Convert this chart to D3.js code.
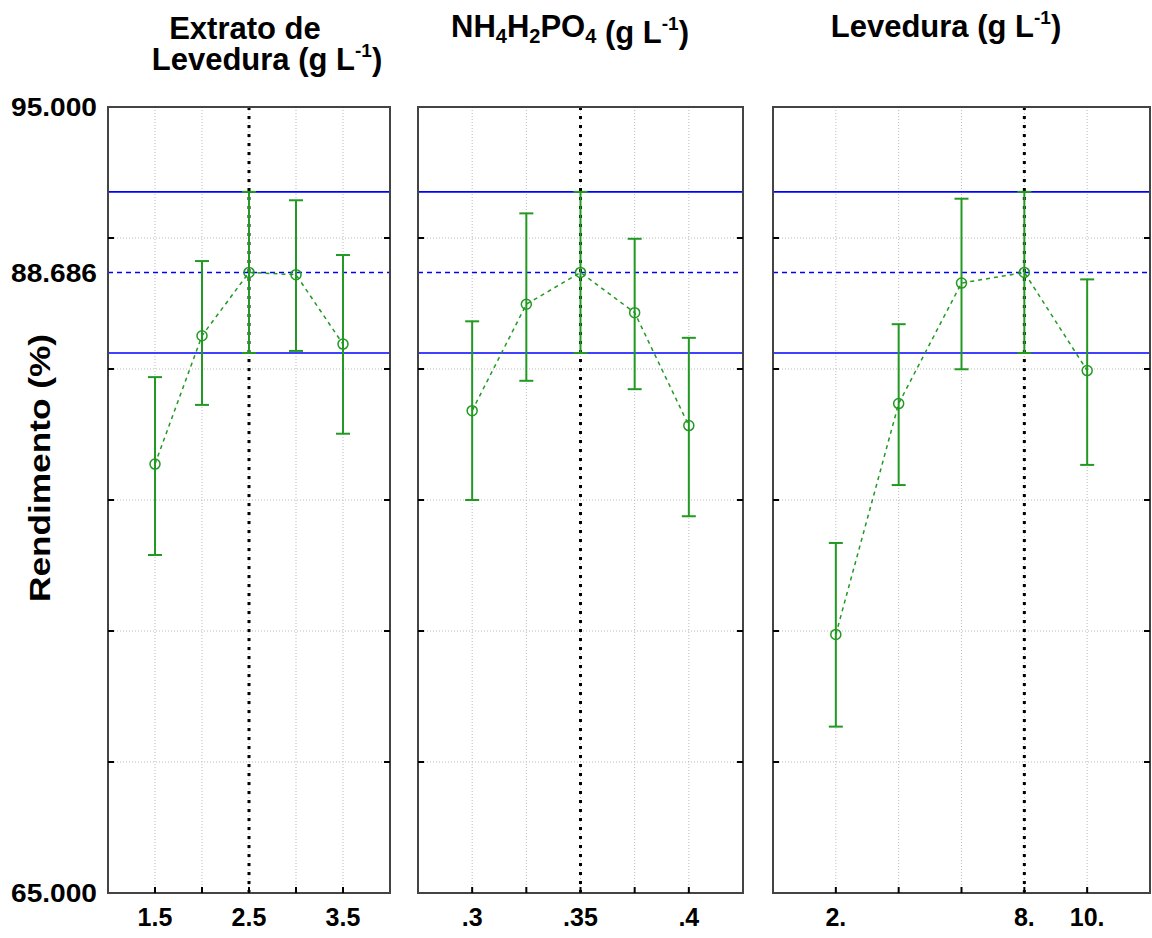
<!DOCTYPE html>
<html>
<head>
<meta charset="utf-8">
<script src="https://cdn.jsdelivr.net/npm/d3@7"></script>
<style>
  body { margin: 0; background: #fff; }
  svg { display: block; font-family: "Liberation Sans", Arial, sans-serif; }
</style>
</head>
<body>
<div id="chart"></div>
<script>
// valores
const extratoX = [1.5, 2, 2.5, 3, 3.5];
const extratoMean = [81.37, 86.27, 88.686, 88.6, 85.95];
const extratoLow = [77.9, 83.63, 85.61, 85.69, 82.53];
const extratoHigh = [84.69, 89.12, 91.76, 91.44, 89.35];

const nh4X = [0.3, 0.325, 0.35, 0.375, 0.4];
const nh4Mean = [83.41, 87.47, 88.686, 87.15, 82.84];
const nh4Low = [80.0, 84.55, 85.61, 84.23, 79.38];
const nh4High = [86.82, 90.94, 91.76, 89.97, 86.19];

const levX = [2, 4, 6, 8, 10];
const levMean = [74.87, 83.68, 88.28, 88.686, 84.94];
const levLow = [71.35, 80.57, 84.99, 85.61, 81.34];
const levHigh = [78.36, 86.71, 91.5, 91.76, 88.42];

// valor ótimo previsto e intervalo
const predicted = 88.686;
const predLow = 85.61;
const predHigh = 91.76;

const yTickLabels = [95, 88.686, 65];
const yGrid = [70, 75, 80, 85, 90];

const width = 1152;
const height = 938;

const svg = d3
  .select("#chart")
  .append("svg")
  .attr("width", width)
  .attr("height", height);

const y = d3.scaleLinear().domain([65, 95]).range([893, 107]);

const panels = [
  {
    x: extratoX, mean: extratoMean, low: extratoLow, high: extratoHigh,
    domain: [1, 4], range: [108, 390], opt: 2.5,
    labels: [1.5, 2.5, 3.5], fmt: (d) => String(d),
  },
  {
    x: nh4X, mean: nh4Mean, low: nh4Low, high: nh4High,
    domain: [0.275, 0.425], range: [418, 743], opt: 0.35,
    labels: [0.3, 0.35, 0.4], fmt: (d) => String(d).replace("0.", "."),
  },
  {
    x: levX, mean: levMean, low: levLow, high: levHigh,
    domain: [0, 12], range: [773, 1150], opt: 8,
    labels: [2, 8, 10], fmt: (d) => d + ".",
  },
];

const green = "#229922";

panels.forEach((p) => drawPanel(p));

function drawPanel(p) {
  const x = d3.scaleLinear().domain(p.domain).range(p.range);
  const [x0, x1] = p.range;
  const g = svg.append("g");

  // grade pontilhada
  g.selectAll(".vgrid")
    .data(p.x)
    .join("line")
    .attr("x1", (d) => x(d))
    .attr("x2", (d) => x(d))
    .attr("y1", y(95))
    .attr("y2", y(65))
    .attr("stroke", "#bbb")
    .attr("stroke-width", 1)
    .attr("stroke-dasharray", "1,2");

  g.selectAll(".hgrid")
    .data(yGrid)
    .join("line")
    .attr("x1", x0)
    .attr("x2", x1)
    .attr("y1", (d) => y(d))
    .attr("y2", (d) => y(d))
    .attr("stroke", "#bbb")
    .attr("stroke-width", 1)
    .attr("stroke-dasharray", "1,2");

  // linhas azuis (intervalo e valor previsto)
  g.selectAll(".blue")
    .data([predLow, predHigh])
    .join("line")
    .attr("x1", x0)
    .attr("x2", x1)
    .attr("y1", (d) => y(d))
    .attr("y2", (d) => y(d))
    .attr("stroke", "#0000ff")
    .attr("stroke-width", 1.6);

  g.append("line")
    .attr("x1", x0)
    .attr("x2", x1)
    .attr("y1", y(predicted))
    .attr("y2", y(predicted))
    .attr("stroke", "#0000ff")
    .attr("stroke-width", 1.6)
    .attr("stroke-dasharray", "5,4");

  // linha vertical do ótimo
  g.append("line")
    .attr("x1", x(p.opt))
    .attr("x2", x(p.opt))
    .attr("y1", y(95))
    .attr("y2", y(65))
    .attr("stroke", "#000")
    .attr("stroke-width", 3)
    .attr("stroke-dasharray", "3,6");

  const pts = p.x.map((d, i) => ({
    x: d, mean: p.mean[i], low: p.low[i], high: p.high[i],
  }));

  // linha tracejada verde ligando as médias
  g.append("path")
    .datum(pts)
    .attr("fill", "none")
    .attr("stroke", green)
    .attr("stroke-width", 1.5)
    .attr("stroke-dasharray", "4,4")
    .attr("d", d3.line().x((d) => x(d.x)).y((d) => y(d.mean)));

  // barras de erro
  const bars = g.selectAll(".bar").data(pts).join("g");
  bars.append("line")
    .attr("x1", (d) => x(d.x))
    .attr("x2", (d) => x(d.x))
    .attr("y1", (d) => y(d.low))
    .attr("y2", (d) => y(d.high))
    .attr("stroke", green)
    .attr("stroke-width", 2);
  ["low", "high"].forEach((k) => {
    bars.append("line")
      .attr("x1", (d) => x(d.x) - 7)
      .attr("x2", (d) => x(d.x) + 7)
      .attr("y1", (d) => y(d[k]))
      .attr("y2", (d) => y(d[k]))
      .attr("stroke", green)
      .attr("stroke-width", 2);
  });
  bars.append("circle")
    .attr("cx", (d) => x(d.x))
    .attr("cy", (d) => y(d.mean))
    .attr("r", 5)
    .attr("fill", "none")
    .attr("stroke", green)
    .attr("stroke-width", 1.5);

  // moldura
  g.append("rect")
    .attr("x", x0)
    .attr("y", y(95))
    .attr("width", x1 - x0)
    .attr("height", y(65) - y(95))
    .attr("fill", "none")
    .attr("stroke", "#444")
    .attr("stroke-width", 2);

  // ticks internos
  yGrid.forEach((v) => {
    g.append("line").attr("x1", x0).attr("x2", x0 + 6)
      .attr("y1", y(v)).attr("y2", y(v)).attr("stroke", "#000").attr("stroke-width", 2);
    g.append("line").attr("x1", x1 - 6).attr("x2", x1)
      .attr("y1", y(v)).attr("y2", y(v)).attr("stroke", "#000").attr("stroke-width", 2);
  });
  p.x.forEach((v) => {
    g.append("line").attr("x1", x(v)).attr("x2", x(v))
      .attr("y1", y(65) - 6).attr("y2", y(65)).attr("stroke", "#000").attr("stroke-width", 2);
  });

  // rótulos do eixo x
  g.selectAll(".xl")
    .data(p.labels)
    .join("text")
    .attr("x", (d) => x(d))
    .attr("y", 926)
    .attr("text-anchor", "middle")
    .attr("font-size", 25)
    .attr("font-weight", "bold")
    .text(p.fmt);
}

// rótulos do eixo y
svg.selectAll(".yl")
  .data(yTickLabels)
  .join("text")
  .attr("x", 97)
  .attr("y", (d) => y(d))
  .attr("dy", "0.36em")
  .attr("text-anchor", "end")
  .attr("font-size", 26)
  .attr("font-weight", "bold")
  .attr("textLength", 86)
  .attr("lengthAdjust", "spacingAndGlyphs")
  .text((d) => d3.format(".3f")(d));

svg.append("text")
  .attr("transform", "translate(50,468) rotate(-90)")
  .attr("text-anchor", "middle")
  .attr("font-size", 30)
  .attr("font-weight", "bold")
  .attr("textLength", 268)
  .attr("lengthAdjust", "spacingAndGlyphs")
  .text("Rendimento (%)");

// títulos
const titleSize = 31;
function unitTitle(sel) {
  sel.append("tspan").text(" (g L");
  sel.append("tspan").attr("dy", -13).attr("font-size", 19).text("-1");
  sel.append("tspan").attr("dy", 13).text(")");
}

svg.append("text")
  .attr("x", 245).attr("y", 39)
  .attr("text-anchor", "middle")
  .attr("font-size", titleSize).attr("font-weight", "bold")
  .text("Extrato de");

const t1b = svg.append("text")
  .attr("x", 267).attr("y", 70)
  .attr("text-anchor", "middle")
  .attr("font-size", titleSize).attr("font-weight", "bold");
t1b.append("tspan").text("Levedura");
unitTitle(t1b);

const t2 = svg.append("text")
  .attr("x", 570).attr("y", 37)
  .attr("text-anchor", "middle")
  .attr("font-size", titleSize).attr("font-weight", "bold");
t2.append("tspan").text("NH");
t2.append("tspan").attr("dy", 6).attr("font-size", 20).text("4");
t2.append("tspan").attr("dy", -6).text("H");
t2.append("tspan").attr("dy", 6).attr("font-size", 20).text("2");
t2.append("tspan").attr("dy", -6).text("PO");
t2.append("tspan").attr("dy", 6).attr("font-size", 20).text("4");
t2.append("tspan").attr("dy", -6).text("");
unitTitle(t2);

const t3 = svg.append("text")
  .attr("x", 946).attr("y", 37)
  .attr("text-anchor", "middle")
  .attr("font-size", titleSize).attr("font-weight", "bold");
t3.append("tspan").text("Levedura");
unitTitle(t3);
</script>
</body>
</html>
